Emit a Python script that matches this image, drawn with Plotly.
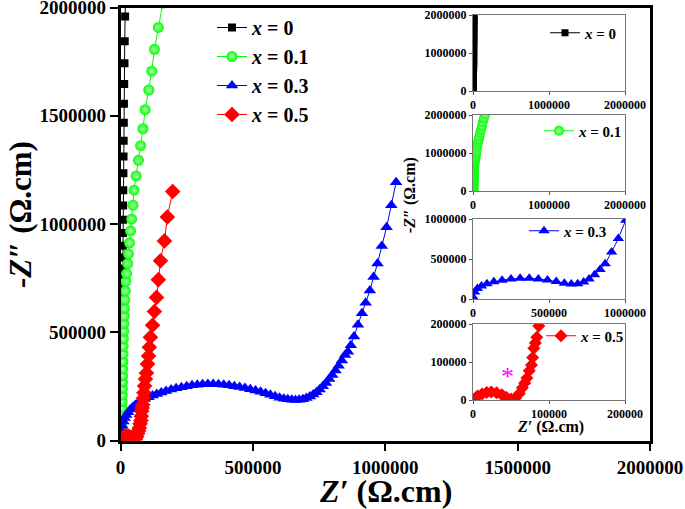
import plotly.graph_objects as go

# ---------------- data (Z' , Z'' in ohm.cm) ----------------
labels = ["x = 0", "x = 0.1", "x = 0.3", "x = 0.5"]
colors = ["#000000", "#00ff00", "#0000ff", "#ff0000"]

x0_re = [1500, 1700, 2000, 2200, 2500, 2700, 3000, 3200, 3500, 3700, 4000, 4200, 4500, 4700,
         5000, 5200, 5500, 5700, 6000, 6200, 6500, 6700, 7000, 7200, 7500, 7700, 8000, 8200,
         8500, 8700, 9000, 9200, 9500, 9800, 10000, 10500, 11000, 11500, 12000, 12500, 13000,
         14000, 15000, 16000, 17500, 19000]
x0_im = [12000, 25000, 40000, 55000, 72000, 90000, 108000, 127000, 147000, 168000, 190000,
         212000, 235000, 258000, 283000, 308000, 335000, 362000, 390000, 420000, 450000, 482000,
         515000, 550000, 585000, 622000, 662000, 704000, 748000, 795000, 845000, 900000, 958000,
         1020000, 1085000, 1156000, 1234000, 1312000, 1385000, 1468000, 1555000, 1647000,
         1743000, 1844000, 1959000, 2080000]

x1_re = [2500, 3000, 3500, 4000, 4500, 5000, 5500, 6000, 6500, 7000, 7500, 8000, 8500, 9000,
         9500, 10000, 11000, 12000, 13000, 14000, 15000, 16000, 18000, 20000, 23000, 27000,
         30000, 34000, 38000, 42000, 47000, 51000, 59000, 68000, 76000, 85000, 93000, 107000,
         118000, 128000, 143000, 160000]
x1_im = [15000, 30000, 50000, 70000, 95000, 120000, 150000, 180000, 210000, 240000, 270000,
         300000, 330000, 365000, 400000, 435000, 470000, 505000, 540000, 575000, 610000, 650000,
         690000, 734000, 771000, 817000, 862000, 913000, 968000, 1023000, 1087000, 1156000,
         1222000, 1294000, 1362000, 1440000, 1528000, 1619000, 1706000, 1807000, 1908000,
         2020000]

x3_re = [2000, 4000, 7000, 11000, 16000, 22000, 29000, 37000, 46000, 56000, 67000, 79000, 92000,
         106000, 121000, 137000, 154000, 172000, 191000, 210000, 230000, 250000, 270000, 290000,
         310000, 330000, 350000, 370000, 390000, 410000, 430000, 450000, 470000, 490000, 510000,
         529000, 548000, 566000, 584000, 601000, 617000, 632000, 647000, 661000, 675000, 689000,
         702000, 715000, 728000, 740000, 752000, 764000, 776000, 788000, 800000, 812000, 824000,
         836000, 848000, 859000, 870000, 882000, 897000, 912000, 926000, 942000, 956000, 971000,
         987000, 1005000, 1023000, 1041000]
x3_im = [20000, 45000, 68000, 88000, 104000, 118000, 131000, 143000, 154000, 164000, 174000,
         183000, 192000, 200000, 208000, 215000, 222000, 229000, 235000, 241000, 246000, 251000,
         255000, 258000, 260000, 261000, 261000, 260000, 258000, 255000, 251000, 247000, 242000,
         237000, 231000, 225000, 218000, 211000, 204000, 198000, 193000, 190000, 188000, 187000,
         188000, 191000, 196000, 203000, 212000, 223000, 236000, 250000, 266000, 284000, 303000,
         323000, 345000, 369000, 395000, 410000, 440000, 480000, 535000, 588000, 636000, 693000,
         755000, 818000, 898000, 985000, 1087000, 1193000]

x5_re = [2000, 6000, 12000, 18000, 24000, 31000, 38000, 44000, 50000, 56000, 61000, 65000, 68000,
         71000, 74000, 77000, 78500, 80000, 82000, 84000, 86500, 88500, 91000, 94000, 98000,
         102000, 106000, 109000, 113000, 121000, 128000, 136000, 143000, 151000, 166000, 177000,
         197000]
x5_im = [2500, 10500, 16000, 19500, 21000, 19000, 13500, 7000, 2500, 5000, 17000, 32000, 45000,
         58000, 77000, 92000, 112000, 136000, 150000, 165000, 195000, 220000, 252000, 284000,
         312000, 353000, 390000, 431000, 477000, 532000, 596000, 661000, 743000, 830000, 922000,
         1032000, 1150000]

main_ticks = [0, 500000, 1000000, 1500000, 2000000]
main_ticktext = ["0", "500000", "1000000", "1500000", "2000000"]
inset_ticks = [
    [0, 1000000, 2000000],
    [0, 1000000, 2000000],
    [0, 500000, 1000000],
    [0, 100000, 200000],
]
inset_ticktext = [
    ["0", "1000000", "2000000"],
    ["0", "1000000", "2000000"],
    ["0", "500000", "1000000"],
    ["0", "100000", "200000"],
]

series_re = [x0_re, x1_re, x3_re, x5_re]
series_im = [x0_im, x1_im, x3_im, x5_im]

# ---------------- layout helpers ----------------
W, H = 685, 509
FONT = "Liberation Serif"


def fx(p):
    return p / W


def fy(p):
    return 1 - p / H


markers = [
    dict(symbol="square", size=8, color=colors[0], line=dict(width=0)),
    dict(symbol="circle", size=11, color=colors[1], line=dict(width=0),
         gradient=dict(type="radial", color="#b8ffb8")),
    dict(symbol="triangle-up", size=11, color=colors[2], line=dict(width=0)),
    dict(symbol="diamond", size=12, color=colors[3], line=dict(width=0)),
]

fig = go.Figure()

# main traces
for i in range(4):
    fig.add_trace(go.Scatter(
        x=series_re[i], y=series_im[i], mode="lines+markers",
        name="<b><i>x</i> = " + labels[i].split("= ")[1] + "</b>",
        line=dict(color=colors[i], width=1), marker=markers[i],
        xaxis="x", yaxis="y", legend="legend"))

# insets
inset_px = [(15, 91), (115, 191), (219, 299), (324, 400)]
inset_step = [1, 1, 3, 1]
for i in range(4):
    k = i + 2
    m = dict(markers[i])
    if i == 0:
        m["size"] = 7
    else:
        m["size"] = 10
    fig.add_trace(go.Scatter(
        x=series_re[i][::inset_step[i]], y=series_im[i][::inset_step[i]],
        mode="lines+markers",
        name="<b><i>x</i> = " + labels[i].split("= ")[1] + "</b>",
        line=dict(color=colors[i], width=1), marker=m,
        xaxis="x%d" % k, yaxis="y%d" % k, legend="legend%d" % k))

axis_font = dict(family=FONT, size=19, color="black", weight="bold")
layout = dict(
    width=W, height=H,
    margin=dict(l=0, r=0, t=0, b=0, autoexpand=False),
    paper_bgcolor="white", plot_bgcolor="white",
    showlegend=True,
    xaxis=dict(domain=[fx(120.5), fx(650)], range=[0, 2000000], tickvals=main_ticks,
               ticktext=main_ticktext, ticks="outside", ticklen=8, tickwidth=2,
               tickcolor="black", showline=True, linewidth=2.5, linecolor="black",
               mirror=True, showgrid=False, zeroline=False, tickfont=axis_font,
               anchor="y", automargin=False, ticklabeloverflow="allow"),
    yaxis=dict(domain=[fy(440.5), fy(7.5)], range=[0, 2000000], tickvals=main_ticks,
               ticktext=main_ticktext, ticks="outside", ticklen=8, tickwidth=2,
               tickcolor="black", showline=True, linewidth=2.5, linecolor="black",
               mirror=True, showgrid=False, zeroline=False, tickfont=axis_font,
               anchor="x", automargin=False, ticklabeloverflow="allow"),
    legend=dict(x=fx(212), y=fy(8), xanchor="left", yanchor="top",
                bgcolor="rgba(0,0,0,0)", font=dict(family=FONT, size=20, color="black"),
                itemwidth=30, tracegroupgap=0),
)

inset_font = dict(family=FONT, size=12, color="black", weight="bold")
inset_leg_pos = [(545, 33), (539, 131), (524, 231), (541, 336)]
for i in range(4):
    k = i + 2
    top, bot = inset_px[i]
    rng = [0, inset_ticks[i][-1]]
    layout["xaxis%d" % k] = dict(
        domain=[fx(473), fx(625)], range=rng, tickvals=inset_ticks[i],
        ticktext=inset_ticktext[i], ticks="outside", ticklen=3, tickwidth=1,
        tickcolor="#555555", showline=True, linewidth=1, linecolor="#777777", mirror=True,
        showgrid=False, zeroline=False, tickfont=inset_font, anchor="y%d" % k,
        automargin=False, ticklabeloverflow="allow")
    layout["yaxis%d" % k] = dict(
        domain=[fy(bot), fy(top)], range=rng, tickvals=inset_ticks[i],
        ticktext=inset_ticktext[i], ticks="outside", ticklen=3, tickwidth=1,
        tickcolor="#555555", showline=True, linewidth=1, linecolor="#777777", mirror=True,
        showgrid=False, zeroline=False, tickfont=inset_font, anchor="x%d" % k,
        automargin=False, ticklabeloverflow="allow")
    lx, ly = inset_leg_pos[i]
    layout["legend%d" % k] = dict(
        x=fx(lx), y=fy(ly), xanchor="left", yanchor="middle",
        bgcolor="rgba(0,0,0,0)", font=dict(family=FONT, size=15, color="black"))

layout["annotations"] = [
    dict(text="<b><i>Z′</i> (Ω.cm)</b>", x=fx(385), y=fy(491), xref="paper", yref="paper",
         showarrow=False, font=dict(family=FONT, size=32, color="black"),
         xanchor="center", yanchor="middle"),
    dict(text="<b><i>-Z″</i> (Ω.cm)</b>", x=fx(21), y=fy(215), xref="paper", yref="paper",
         showarrow=False, textangle=-90, font=dict(family=FONT, size=31, color="black"),
         xanchor="center", yanchor="middle"),
    dict(text="<b><i>Z′</i> (Ω.cm)</b>", x=fx(550), y=fy(427), xref="paper", yref="paper",
         showarrow=False, font=dict(family=FONT, size=16, color="black"),
         xanchor="center", yanchor="middle"),
    dict(text="<b><i>-Z″</i> (Ω.cm)</b>", x=fx(410), y=fy(195), xref="paper", yref="paper",
         showarrow=False, textangle=-90, font=dict(family=FONT, size=16, color="black"),
         xanchor="center", yanchor="middle"),
    dict(text="*", x=45000, y=62000, xref="x5", yref="y5", showarrow=False,
         font=dict(family=FONT, size=26, color="#ff00ff"), xanchor="center",
         yanchor="middle"),
]

fig.update_layout(**layout)
fig.write_html("out.html", config={"displayModeBar": False},
               post_script="document.body.style.margin='0px';")
